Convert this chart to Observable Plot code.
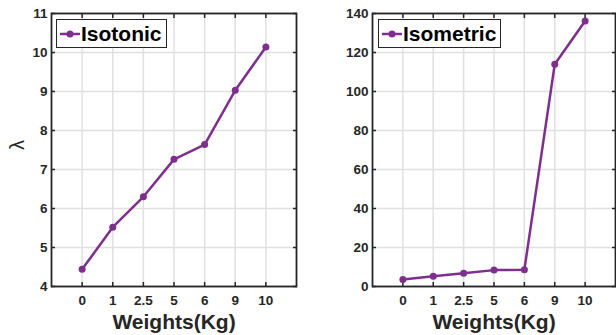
<!DOCTYPE html>
<html><head><meta charset="utf-8">
<script src="https://cdn.jsdelivr.net/npm/d3@7"></script>
<script src="https://cdn.jsdelivr.net/npm/@observablehq/plot@0.6"></script>
<style>
body{margin:0;background:#fff;}
#wrap{position:relative;width:616px;height:335px;overflow:hidden;background:#fff;}
.panel{position:absolute;top:0;}
.legend{position:absolute;border:1.5px solid #262626;background:#fff;box-sizing:border-box;
  font:bold 21px "Liberation Sans", Arial, Helvetica, sans-serif;color:#000;}
.legend svg{position:absolute;left:2px;top:8px;}
.legend span{position:absolute;top:2px;line-height:24px;}
</style></head><body><div id="wrap"></div>
<script>
const weights = ["0","1","2.5","5","6","9","10"];
const isotonic = [4.44,5.52,6.30,7.26,7.64,9.03,10.14];
const isometric = [3.6,5.3,6.8,8.4,8.6,114.0,136.2];
const isotonicTicks = [4,5,6,7,8,9,10,11];
const isometricTicks = [0,20,40,60,80,100,120,140];
const seriesNames = ["Isotonic","Isometric"];

const color = "#7E2F8E";
const axisColor = "#262626";
const gridColor = "#e0e0e0";
const font = '"Liberation Sans", Arial, Helvetica, sans-serif';
const idx = weights.map((_, i) => i);

function panel({values, yTicks, name, left, marginLeft, marginRight, ylabel, legend}) {
  const data = values.map((v, i) => ({i, v}));
  const W = 308;
  const chart = Plot.plot({
    width: W, height: 335,
    marginLeft, marginRight, marginTop: 13, marginBottom: 49,
    style: {fontFamily: font, fontWeight: "bold", fontSize: "13.5px", color: axisColor, background: "transparent", overflow: "visible"},
    x: {domain: [-1, 7]},
    y: {domain: [yTicks[0], yTicks[yTicks.length - 1]]},
    marks: [
      Plot.gridX(idx, {stroke: gridColor, strokeOpacity: 1, strokeWidth: 1.5}),
      Plot.gridY(yTicks, {stroke: gridColor, strokeOpacity: 1, strokeWidth: 1.5}),
      Plot.axisX(idx, {tickFormat: i => weights[i], tickSize: -4, tickPadding: 13, label: null, stroke: axisColor, strokeWidth: 1.5, fill: axisColor}),
      Plot.axisX(idx, {anchor: "top", tickFormat: () => "", tickSize: -4, label: null, stroke: axisColor, strokeWidth: 1.5}),
      Plot.axisY(yTicks, {tickSize: -4, tickPadding: 8, label: null, stroke: axisColor, strokeWidth: 1.5, fill: axisColor}),
      Plot.axisY(yTicks, {anchor: "right", tickFormat: () => "", tickSize: -4, label: null, stroke: axisColor, strokeWidth: 1.5}),
      Plot.frame({stroke: axisColor, strokeWidth: 1.8}),
      Plot.line(data, {x: "i", y: "v", stroke: color, strokeWidth: 2.5}),
      Plot.dot(data, {x: "i", y: "v", fill: color, r: 3.5}),
      Plot.text(["Weights(Kg)"], {text: d => d, frameAnchor: "bottom", dy: 36, lineAnchor: "middle", fontSize: 21, fontWeight: "bold", fill: axisColor}),
      ylabel ? Plot.text([ylabel], {text: d => d, frameAnchor: "left", dx: -34, rotate: -90, fontSize: 20, fontWeight: "normal", fill: axisColor}) : null
    ]
  });
  chart.classList.add("panel");
  chart.style.left = left + "px";
  const wrap = document.getElementById("wrap");
  wrap.appendChild(chart);

  const lg = document.createElement("div");
  lg.className = "legend";
  lg.style.left = legend.x + "px";
  lg.style.top = "19px";
  lg.style.width = legend.w + "px";
  lg.style.height = "29px";
  lg.innerHTML = `<svg width="22" height="12"><line x1="1" y1="6" x2="21" y2="6" stroke="${color}" stroke-width="2.5"/><circle cx="11" cy="6" r="3.5" fill="${color}"/></svg><span style="left:24px">${name}</span>`;
  wrap.appendChild(lg);
}

panel({values: isotonic, yTicks: isotonicTicks, name: seriesNames[0], left: 0, marginLeft: 51, marginRight: 12, ylabel: "λ", legend: {x: 56, w: 111}});
panel({values: isometric, yTicks: isometricTicks, name: seriesNames[1], left: 308, marginLeft: 64, marginRight: 1, ylabel: null, legend: {x: 378, w: 123}});
</script></body></html>
